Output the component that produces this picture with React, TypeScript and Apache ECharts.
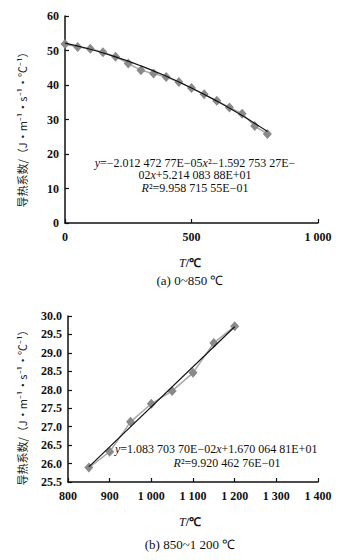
import React, { useEffect, useRef } from "react";
import * as echarts from "echarts";

// Panel (a): 0~850 ℃
const tempA = [0, 50, 100, 150, 200, 250, 300, 350, 400, 450, 500, 550, 600, 650, 700, 750, 800];
const condA = [51.9, 51.0, 50.5, 49.5, 48.2, 46.2, 44.3, 43.3, 42.3, 40.9, 39.1, 37.3, 35.4, 33.5, 31.7, 28.1, 25.8];
const trendTempA = [0, 100, 200, 300, 400, 500, 600, 700, 800];
const trendA = [52.14, 50.35, 48.15, 45.55, 42.55, 39.15, 35.34, 31.13, 26.52];

// Panel (b): 850~1 200 ℃
const tempB = [850, 900, 950, 1000, 1050, 1100, 1150, 1200];
const condB = [25.89, 26.32, 27.13, 27.62, 27.97, 28.46, 29.27, 29.72];
const trendTempB = [850, 1200];
const trendB = [25.91, 29.71];

const yName = "导热系数/（J·m⁻¹·s⁻¹·℃⁻¹）";
const xName = "{i|T}/℃";
const captionA = "(a) 0~850 ℃";
const captionB = "(b) 850~1 200 ℃";
const eqA = "{i|y}=−2.012 472 77E−05{i|x}²−1.592 753 27E−\n02{i|x}+5.214 083 88E+01\n{i|R}²=9.958 715 55E−01";
const eqB1 = "{i|y}=1.083 703 70E−02{i|x}+1.670 064 81E+01";
const eqB2 = "{i|R}²=9.920 462 76E−01";

const SERIF = "'Liberation Serif', 'Times New Roman', serif";
const CJK = "'Noto Sans CJK SC', sans-serif";

const fmtThousands = (v: number) => {
  const s = String(Math.round(v));
  return s.length > 3 ? s.slice(0, s.length - 3) + " " + s.slice(-3) : s;
};

export default function App() {
  const ref = useRef<HTMLDivElement>(null);
  useEffect(() => {
    if (!ref.current) return;
    const chart = echarts.init(ref.current, undefined, { renderer: "svg" });
    const axisLine = { show: true, lineStyle: { color: "#111", width: 1.5 } };
    const axisTick = { show: true, inside: true, length: 4, lineStyle: { color: "#111", width: 1.2 } };
    const axisLabel = { color: "#111", fontFamily: SERIF, fontWeight: "bold" as const, fontSize: 12 };
    const richI = {
      i: { fontStyle: "italic", fontFamily: SERIF, fontSize: 12, color: "#111" },
    };
    const text = (x: number, y: number, t: string, align: string, extra: any = {}) => ({
      type: "text",
      x,
      y,
      ...extra,
      style: {
        text: t,
        fill: "#111",
        fontFamily: SERIF,
        fontSize: 12,
        align,
        verticalAlign: "middle",
        lineHeight: 12.5,
        rich: richI,
        ...(extra.style || {}),
      },
    });
    const yLabel = (x: number, y: number) => ({
      type: "text",
      x,
      y,
      rotation: Math.PI / 2,
      style: {
        text: yName,
        fill: "#222",
        fontFamily: CJK,
        fontSize: 11,
        align: "center",
        verticalAlign: "middle",
      },
    });
    chart.setOption({
      animation: false,
      backgroundColor: "#ffffff",
      grid: [
        { left: 65, right: 38, top: 16, height: 207 },
        { left: 68, right: 38, top: 316, height: 166 },
      ],
      xAxis: [
        {
          gridIndex: 0,
          type: "value",
          min: 0,
          max: 1000,
          interval: 500,
          axisLine,
          axisTick,
          splitLine: { show: false },
          axisLabel: { ...axisLabel, margin: 8, formatter: fmtThousands },
        },
        {
          gridIndex: 1,
          type: "value",
          min: 800,
          max: 1400,
          interval: 100,
          axisLine,
          axisTick,
          splitLine: { show: false },
          axisLabel: { ...axisLabel, margin: 8, formatter: fmtThousands },
        },
      ],
      yAxis: [
        {
          gridIndex: 0,
          type: "value",
          min: 0,
          max: 60,
          interval: 10,
          axisLine,
          axisTick,
          splitLine: { show: false },
          axisLabel: { ...axisLabel, margin: 6 },
        },
        {
          gridIndex: 1,
          type: "value",
          min: 25.5,
          max: 30,
          interval: 0.5,
          axisLine,
          axisTick,
          splitLine: { show: false },
          axisLabel: { ...axisLabel, margin: 6, formatter: (v: number) => v.toFixed(1) },
        },
      ],
      series: [
        {
          type: "line",
          xAxisIndex: 0,
          yAxisIndex: 0,
          data: tempA.map((t, i) => [t, condA[i]]),
          symbol: "diamond",
          symbolSize: [9, 10],
          itemStyle: { color: "#8a8a8a" },
          lineStyle: { color: "#a8a8a8", width: 1.5 },
          z: 2,
        },
        {
          type: "line",
          xAxisIndex: 0,
          yAxisIndex: 0,
          data: trendTempA.map((t, i) => [t, trendA[i]]),
          smooth: true,
          showSymbol: false,
          symbol: "none",
          lineStyle: { color: "#111", width: 1.2 },
          z: 3,
        },
        {
          type: "line",
          xAxisIndex: 1,
          yAxisIndex: 1,
          data: tempB.map((t, i) => [t, condB[i]]),
          symbol: "diamond",
          symbolSize: [9, 10],
          itemStyle: { color: "#8a8a8a" },
          lineStyle: { color: "#a8a8a8", width: 1.5 },
          z: 2,
        },
        {
          type: "line",
          xAxisIndex: 1,
          yAxisIndex: 1,
          data: trendTempB.map((t, i) => [t, trendB[i]]),
          showSymbol: false,
          symbol: "none",
          lineStyle: { color: "#111", width: 1.2 },
          z: 3,
        },
      ],
      graphic: [
        text(195, 175, eqA, "center"),
        text(115, 449, eqB1, "left"),
        text(227, 463, eqB2, "center"),
        yLabel(22, 127),
        yLabel(22, 405),
        text(190, 263, xName, "center", { style: { fontWeight: "bold" } }),
        text(190, 522, xName, "center", { style: { fontWeight: "bold" } }),
        text(190, 280, captionA, "center", { style: { fontSize: 13 } }),
        text(190, 544, captionB, "center", { style: { fontSize: 13 } }),
      ],
    });
    return () => chart.dispose();
  }, []);
  return (
    <div
      ref={ref}
      style={{ position: "fixed", left: 0, top: 0, width: 356, height: 560 }}
    />
  );
}
